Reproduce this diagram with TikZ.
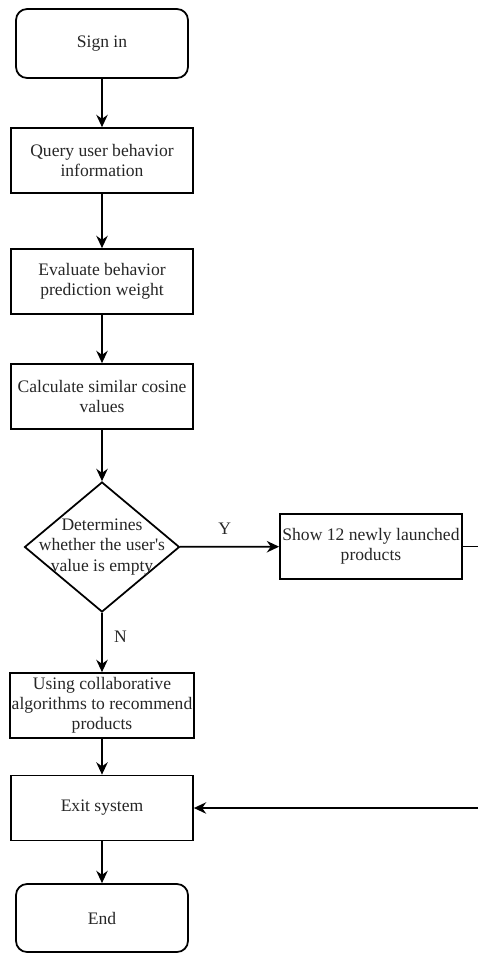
\documentclass[tikz,border=0pt]{standalone}
\usepackage{fontspec}
\setmainfont{Liberation Serif}
\usetikzlibrary{shapes.geometric,arrows.meta}

\begin{document}
\begin{tikzpicture}[x=0.02cm,y=-0.02cm,
    every node/.style={font=\fontsize{10}{11.5}\selectfont,text=black!85},
    term/.style={rectangle,rounded corners=0.22cm,draw,line width=1pt,minimum width=3.44cm,minimum height=1.38cm},
    proc/.style={rectangle,draw,line width=1pt,minimum width=3.64cm,minimum height=1.3cm,align=center,inner sep=1pt},
    decision/.style={diamond,draw,line width=1pt,minimum width=3.1cm,minimum height=2.6cm,inner sep=0pt},
    flow/.style={line width=1pt,-{Stealth[length=7pt,width=6.5pt]}}]
\useasboundingbox (0,0) rectangle (478,954);
\node[term] (signin) at (102,43.5) {Sign in};
\node[proc] (query) at (102,160.5) {Query user behavior\\information};
\node[proc] (eval) at (102,281.5) {Evaluate behavior\\prediction weight};
\node[proc] (calc) at (102,396.5) {Calculate similar cosine\\values};
\node[decision] (dec) at (102,547) {};
\node[align=center] (dectext) at (102,547) {Determines\\whether the user\textquotesingle s\\value is empty};
\node[proc] (show) at (371,546.5) {Show 12 newly launched\\products};
\node[proc] (collab) at (102,705.5) {Using collaborative\\algorithms to recommend\\products};
\node[proc] (exit) at (102,808) {Exit system};
\node[term,minimum height=1.36cm] (end) at (102,918) {End};
\coordinate (outr) at (478,546.5);
\coordinate (inr) at (478,808);
\draw[flow] (signin) -- (query);
\draw[flow] (query) -- (eval);
\draw[flow] (eval) -- (calc);
\draw[flow] (calc) -- (dec);
\draw[flow] (dec) -- node[above=3pt,pos=0.45] (ylab) {Y} (show);
\draw[flow] (dec) -- node[right=3pt,pos=0.4] (nlab) {N} (collab);
\draw[line width=1pt] (show) -- (outr);
\draw[flow] (inr) -- (exit);
\draw[flow] (collab) -- (exit);
\draw[flow] (exit) -- (end);
\end{tikzpicture}
\end{document}
